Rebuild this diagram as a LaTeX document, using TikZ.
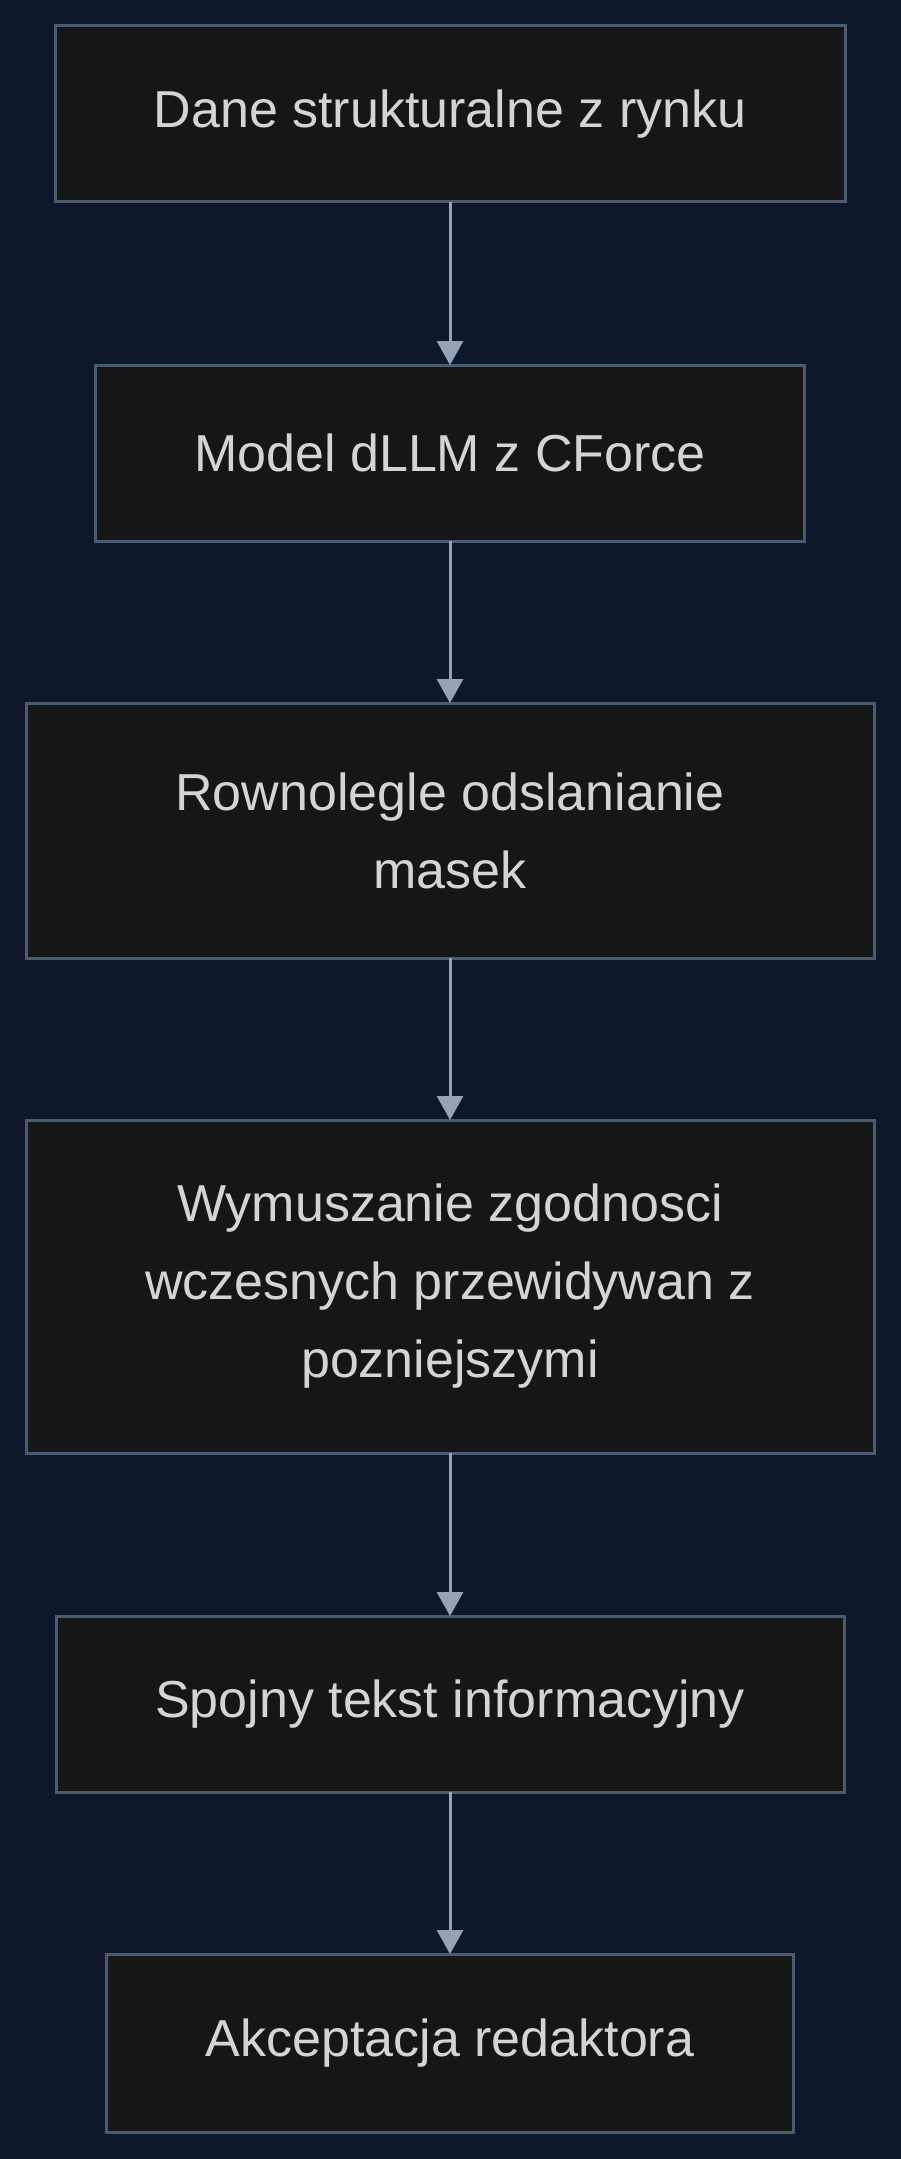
\documentclass[tikz,border=0pt]{standalone}
\usepackage{fontspec}
\setmainfont{Liberation Sans}
\usetikzlibrary{arrows.meta}
\definecolor{bgnavy}{HTML}{0F172A}
\definecolor{boxfill}{HTML}{161616}
\definecolor{boxline}{HTML}{4A5A70}
\definecolor{flowline}{HTML}{94A3B8}
\definecolor{txtgray}{HTML}{D4D4D4}
\tikzset{
  stage/.style={draw=boxline, fill=boxfill, line width=3pt, text=txtgray,
    align=center, inner sep=0pt, outer sep=0pt,
    font=\fontsize{52}{78}\selectfont},
  flow/.style={draw=flowline, line width=3pt,
    -{Triangle[width=26pt,length=24pt]}}
}
\begin{document}
\begin{tikzpicture}[x=1pt,y=-1pt]
      \useasboundingbox (0,0) rectangle (900,2159);
      \fill[bgnavy] (-6,-6) rectangle (906,2165);
      \node[stage,minimum width=790pt,minimum height=176pt] (dane) at (450,114) {Dane strukturalne z rynku};
      \node[stage,minimum width=709pt,minimum height=176pt] (model) at (450,453) {Model dLLM z CForce};
      \node[stage,minimum width=848pt,minimum height=255pt] (odsl) at (450,830.5) {Rownolegle odslanianie\\masek};
      \node[stage,minimum width=848pt,minimum height=333pt] (wymus) at (450,1286.5) {Wymuszanie zgodnosci\\wczesnych przewidywan z\\pozniejszymi};
      \node[stage,minimum width=788pt,minimum height=176pt] (tekst) at (450,1704) {Spojny tekst informacyjny};
      \node[stage,minimum width=687pt,minimum height=178pt] (akcept) at (450,2043) {Akceptacja redaktora};
      \draw[flow] (dane) -- (model);
      \draw[flow] (model) -- (odsl);
      \draw[flow] (odsl) -- (wymus);
      \draw[flow] (wymus) -- (tekst);
      \draw[flow] (tekst) -- (akcept);
\end{tikzpicture}
\end{document}
